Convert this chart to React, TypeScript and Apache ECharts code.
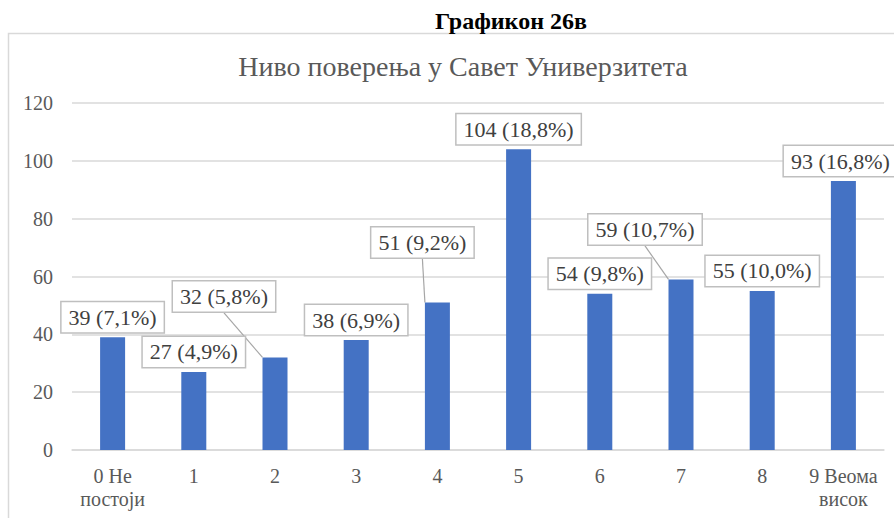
import React, { useEffect, useRef } from "react";
import * as echarts from "echarts";

const categories = ["0 Не\nпостоји", "1", "2", "3", "4", "5", "6", "7", "8", "9 Веома\nвисок"];
const counts = [39, 27, 32, 38, 51, 104, 54, 59, 55, 93];
const percents = ["7,1%", "4,9%", "5,8%", "6,9%", "9,2%", "18,8%", "9,8%", "10,7%", "10,0%", "16,8%"];
const yTicks = { min: 0, max: 120, interval: 20 };
const heading = "Графикон 26в";
const chartTitle = "Ниво поверења у Савет Универзитета";

// label displacement (px) for labels that sit away from their bars
const labelShift: Record<number, [number, number]> = {
  2: [-51, -41],
  4: [-15, -40],
  7: [-36, -30],
  9: [-3, 0],
};
const leaderIdx = [2, 4, 7];

const FONT = "Liberation Serif";

export default function App() {
  const ref = useRef<HTMLDivElement>(null);
  useEffect(() => {
    document.body.style.margin = "0";
    const chart = echarts.init(ref.current!, undefined, { renderer: "svg" });
    chart.setOption({
      animation: false,
      backgroundColor: "#ffffff",
      textStyle: { fontFamily: FONT },
      title: [
        {
          text: heading,
          left: 506,
          top: 4,
          textAlign: "center",
          textStyle: { fontFamily: FONT, fontSize: 24, fontWeight: "bold", color: "#000000" },
        },
        {
          text: chartTitle,
          left: 458,
          top: 47,
          textAlign: "center",
          textStyle: { fontFamily: FONT, fontSize: 28, fontWeight: "normal", color: "#595959" },
        },
      ],
      graphic: [
        {
          type: "rect",
          shape: { x: 8.5, y: 33.5, width: 900, height: 500 },
          style: { fill: "none", stroke: "#d9d9d9", lineWidth: 1.5 },
          silent: true,
        },
      ],
      grid: { left: 72, right: 10, top: 103, bottom: 68, containLabel: false },
      xAxis: {
        type: "category",
        data: categories,
        axisLine: { show: true, lineStyle: { color: "#d9d9d9", width: 1.5 } },
        axisTick: { show: false },
        axisLabel: {
          interval: 0,
          margin: 14,
          fontFamily: FONT,
          fontSize: 20,
          lineHeight: 23,
          color: "#595959",
        },
      },
      yAxis: {
        type: "value",
        min: yTicks.min,
        max: yTicks.max,
        interval: yTicks.interval,
        axisLine: { show: false },
        axisTick: { show: false },
        splitLine: { lineStyle: { color: "#d9d9d9", width: 1.5 } },
        axisLabel: { margin: 19, fontFamily: FONT, fontSize: 20, color: "#595959" },
      },
      series: [
        {
          type: "bar",
          barWidth: 25,
          itemStyle: { color: "#4472C4" },
          data: counts.map((v, i) => ({
            value: v,
            labelLine: { show: leaderIdx.includes(i) },
          })),
          label: {
            show: true,
            position: "top",
            distance: 5,
            formatter: (p: any) => `${counts[p.dataIndex]} (${percents[p.dataIndex]})`,
            fontFamily: FONT,
            fontSize: 22,
            lineHeight: 20,
            color: "#404040",
            backgroundColor: "#ffffff",
            borderColor: "#bfbfbf",
            borderWidth: 1.5,
            padding: [5, 7, 5, 7],
          },
          labelLine: { show: false, lineStyle: { color: "#a6a6a6", width: 1.2 } },
          labelLayout: (p: any) => {
            const s = labelShift[p.dataIndex];
            return s ? { dx: s[0], dy: s[1] } : {};
          },
        },
      ],
    });
    return () => chart.dispose();
  }, []);
  return <div ref={ref} style={{ width: 894, height: 518 }} />;
}
